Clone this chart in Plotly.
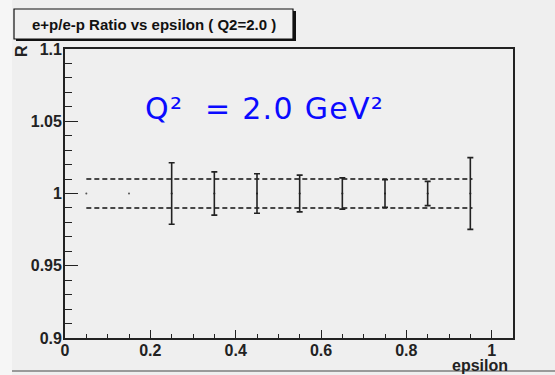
import plotly.graph_objects as go

# ---- data ----
epsilon = [0.25, 0.35, 0.45, 0.55, 0.65, 0.75, 0.85, 0.95]
ratio = [1.0, 1.0, 1.0, 1.0, 1.0, 1.0, 1.0, 1.0]
ratio_err = [0.0213, 0.0150, 0.0137, 0.0127, 0.0108, 0.0095, 0.0084, 0.0248]
empty_eps = [0.05, 0.15]
empty_ratio = [1.0, 1.0]
band_x = [0.05, 0.955]
band_upper = [1.01, 1.01]
band_lower = [0.99, 0.99]
x_tickvals = [0, 0.2, 0.4, 0.6, 0.8, 1.0]
x_ticktext = ["0", "0.2", "0.4", "0.6", "0.8", "1"]
y_tickvals = [0.9, 0.95, 1.0, 1.05, 1.1]
y_ticktext = ["0.9", "0.95", "1", "1.05", "1.1"]
title_text = "e+p/e-p Ratio vs epsilon ( Q2=2.0 )"
note_text = '<span style="letter-spacing:1.3px">Q\u00b2\u00a0 = 2.0 GeV\u00b2</span>'

# ---- geometry (pixels) ----
W, H = 555, 375
L, R, T, B = 65, 513, 49, 338
def px(x):
    return (x - L) / (R - L)
def py(y):
    return (B - y) / (B - T)

INK = "#222222"
FONT = "Liberation Sans, Arial, sans-serif"

fig = go.Figure()
fig.add_trace(go.Scatter(x=band_x, y=band_upper, mode="lines",
                         line=dict(color="#111111", width=1.4, dash="5px,3px"),
                         hoverinfo="skip", showlegend=False))
fig.add_trace(go.Scatter(x=band_x, y=band_lower, mode="lines",
                         line=dict(color="#111111", width=1.4, dash="5px,3px"),
                         hoverinfo="skip", showlegend=False))
fig.add_trace(go.Scatter(x=empty_eps, y=empty_ratio, mode="markers",
                         marker=dict(color="#555555", size=2),
                         showlegend=False))
fig.add_trace(go.Scatter(x=epsilon, y=ratio, mode="markers",
                         marker=dict(color=INK, size=2),
                         error_y=dict(type="data", array=ratio_err, visible=True,
                                      color=INK, thickness=1.6, width=3),
                         showlegend=False))

axis_common = dict(showline=True, linecolor=INK, linewidth=1.8, mirror=True,
                   showgrid=False, zeroline=False, ticks="inside",
                   tickcolor=INK, tickwidth=1.2)

fig.update_xaxes(range=[0, 1.05], tickmode="array", tickvals=x_tickvals,
                 ticktext=x_ticktext, ticklen=8, ticklabelstandoff=-3,
                 tickfont=dict(family=FONT, size=16, color=INK, weight="bold"),
                 minor=dict(dtick=0.05, tick0=0, ticklen=4, ticks="inside",
                            tickcolor=INK, tickwidth=1.2),
                 **axis_common)
fig.update_yaxes(range=[0.9, 1.1], tickmode="array", tickvals=y_tickvals,
                 ticktext=y_ticktext, ticklen=13, ticklabelstandoff=-2,
                 tickfont=dict(family=FONT, size=16, color=INK, weight="bold"),
                 minor=dict(dtick=0.01, tick0=0.9, ticklen=7, ticks="inside",
                            tickcolor=INK, tickwidth=1.2),
                 **axis_common)

shapes = [
    # left lighter strip and bottom border of the canvas
    dict(type="rect", xref="paper", yref="paper", x0=px(0), x1=px(12), y0=py(W), y1=py(0),
         fillcolor="#f6f6f6", line=dict(width=0), layer="below"),
    dict(type="line", xref="paper", yref="paper", x0=px(12), x1=px(W), y0=py(371), y1=py(371),
         line=dict(color="#9a9a9a", width=2), layer="below"),
    # title box shadow + box
    dict(type="rect", xref="paper", yref="paper", x0=px(16), x1=px(296), y0=py(41), y1=py(11),
         fillcolor="#111111", line=dict(width=0)),
    dict(type="rect", xref="paper", yref="paper", x0=px(14), x1=px(293), y0=py(39), y1=py(9),
         fillcolor="#f0f0f0", line=dict(color="#111111", width=1.2)),
]

annotations = [
    dict(x=px(153.5), y=py(24.5), xref="paper", yref="paper", text=title_text,
         showarrow=False, xanchor="center", yanchor="middle",
         font=dict(family=FONT, size=15, color="#111111", weight="bold")),
    dict(x=px(264), y=py(108), xref="paper", yref="paper", text=note_text,
         showarrow=False, xanchor="center", yanchor="middle",
         font=dict(family="DejaVu Sans", size=30, color="#0a0aff")),
    dict(x=px(480), y=py(365.5), xref="paper", yref="paper", text="epsilon",
         showarrow=False, xanchor="center", yanchor="middle",
         font=dict(family=FONT, size=16, color=INK, weight="bold")),
    dict(x=px(21), y=py(51), xref="paper", yref="paper", text="R", textangle=-90,
         showarrow=False, xanchor="center", yanchor="middle",
         font=dict(family=FONT, size=16, color=INK, weight="bold")),
]

fig.update_layout(width=W, height=H, autosize=False,
                  margin=dict(l=L, r=W - R, t=T, b=H - B, pad=0),
                  paper_bgcolor="#efefef", plot_bgcolor="#efefef",
                  shapes=shapes, annotations=annotations, showlegend=False)

fig.write_html("out.html")
